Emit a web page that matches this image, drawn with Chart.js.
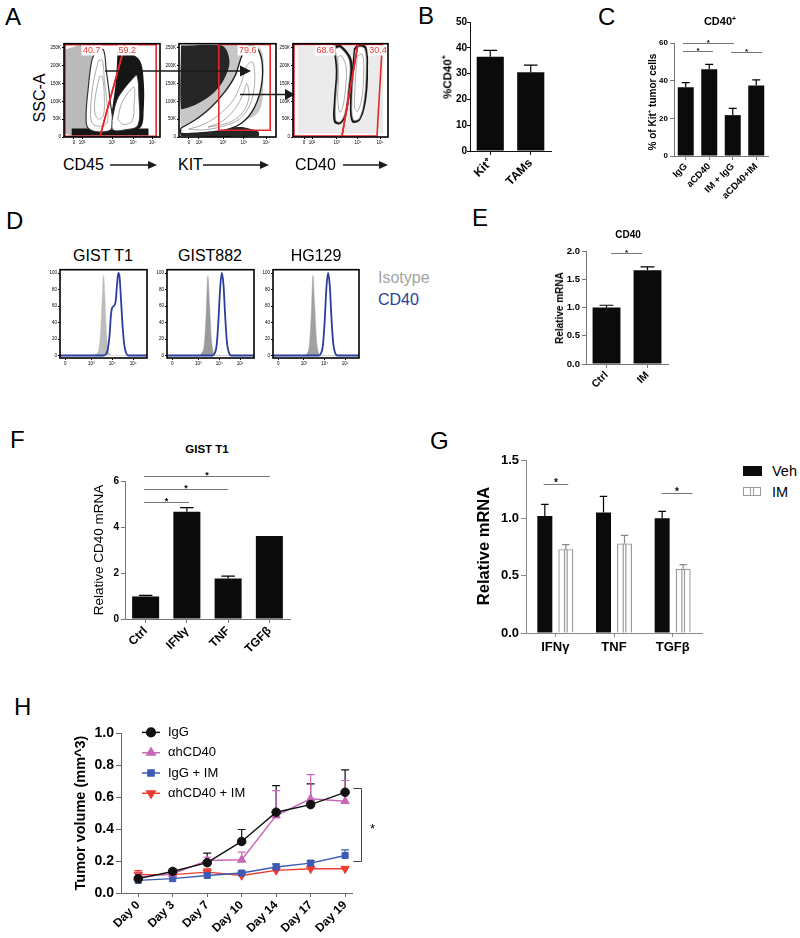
<!DOCTYPE html>
<html>
<head>
<meta charset="utf-8">
<script src="https://cdn.jsdelivr.net/npm/chart.js@4.4.1/dist/chart.umd.min.js"></script>
<style>
html, body { margin: 0; padding: 0; background: #fff; }
body { width: 800px; height: 938px; position: relative; overflow: hidden; font-family: 'Liberation Sans', Arial, sans-serif; color: #000; }
.t { position: absolute; white-space: nowrap; line-height: 1; }
.holder { position: absolute; }
</style>
</head>
<body>
<svg width="800" height="938" style="position:absolute;left:0;top:0;z-index:5;pointer-events:none">
  <g stroke="#1a1a1a" stroke-width="1.3" fill="#1a1a1a">
    <line x1="105" y1="71" x2="242" y2="71"/><path d="M240,65.5 L251,71 L240,76.5z" stroke="none"/>
    <line x1="240" y1="94.5" x2="286" y2="94.5"/><path d="M285,89 L295,94.5 L285,100z" stroke="none"/>
    <line x1="110" y1="165" x2="149" y2="165"/><path d="M148,161 L157,165 L148,169z" stroke="none"/>
    <line x1="203" y1="165" x2="261" y2="165"/><path d="M260,161 L269,165 L260,169z" stroke="none"/>
    <line x1="343" y1="165" x2="380" y2="165"/><path d="M379,161 L388,165 L379,169z" stroke="none"/>
  </g>
</svg>
<script>
// ---- A: flow gates (x 0-100 display units, y in K) ----
const flowYTicks = [0, 50, 100, 150, 200, 250];
const flowXLabels = ['0', '10²', '10³', '10⁴', '10⁵'];
const p1XTicks = [10.4, 18.8, 50, 72, 92];
const p2XTicks = [10.3, 20.6, 45.4, 67, 90];
const p3XTicks = [11.6, 20, 46, 68.4, 91.6];

const p1Speckle = [[1,245],[18,258],[34,258],[36,12],[1,12],[1,245]];
const p1Dark = [[56,250],[67,238],[79,215],[83,159],[83,75],[80,28],[64,14],[46,14],[50,75],[54,159],[56,250]];
const p1Band = [[8,24],[88,24],[88,4],[8,4],[8,24]];
const p1Left = [[34,245],[41,245],[44,187],[48,103],[50,25],[38,14],[25,25],[23,61],[25,131],[29,215],[34,245]];
const p1LeftIn = [[36,215],[40,215],[42,160],[45,90],[45,40],[37,30],[29,40],[28,90],[31,160],[36,215]];
const p1LeftIn2 = [[37,170],[40,170],[42,110],[41,60],[36,50],[32,70],[33,120],[37,170]];
const p1Right = [[50,47],[55,103],[63,137],[72,165],[76,173],[78,117],[77,33],[63,20],[51,20],[50,47]];
const p1RightIn = [[56,50],[60,95],[67,125],[73,140],[73,90],[71,45],[62,35],[56,50]];
const p1GateL = [[1,2],[1,259],[63.5,259],[37.5,2],[1,2]];
const p1GateR = [[37.5,2],[63.5,259],[96,259],[96,2],[37.5,2]];
const p1Labels = [[29, 243, '40.7'], [66, 243, '59.2']];

const p2Speckle = [[2,257],[80,257],[87,160],[78,60],[2,30],[2,257]];
const p2Dark = [[2,257],[44,257],[52,215],[47,165],[35,122],[20,95],[6,80],[2,80],[2,257]];
const p2Band = [[2,22],[40,24],[65,28],[82,15],[82,3],[2,3],[2,22]];
const p2Banana = [[2,25],[16,47],[32,81],[47,126],[58,173],[65,229],[73,257],[81,248],[86,201],[84,131],[75,70],[61,33],[42,17],[16,11],[2,11],[2,25]];
const p2BananaIn = [[10,22],[25,35],[40,60],[55,100],[64,150],[70,200],[76,210],[78,150],[73,90],[62,50],[45,30],[25,20],[10,22]];
const p2BananaIn2 = [[30,28],[45,45],[58,80],[66,120],[70,150],[72,110],[66,70],[55,45],[40,32],[30,28]];
const p2Gate = [[41,19],[41,260],[94,260],[94,19],[41,19]];
const p2Labels = [[71, 243, '79.6']];

const p3Speckle = [[5,10],[5,255],[95,255],[95,10],[5,10]];
const p3Left = [[42,257],[50,259],[62,215],[60,131],[56,61],[49.5,36],[43,42],[43,103],[45,187],[42,257]];
const p3LeftIn = [[44.5,248],[50,250],[59.5,212],[58,131],[54.5,66],[49.5,42],[45,47],[45,103],[47,187],[44.5,248]];
const p3LeftIn2 = [[47,225],[51,228],[56,195],[55,130],[52,80],[49,70],[47,110],[48,170],[47,225]];
const p3Right = [[64,248],[68,259],[77,254],[79,187],[77,103],[70.6,47],[62,42],[60,103],[62,187],[64,248]];
const p3RightIn = [[65.5,243],[68.5,253],[75.5,248],[77,187],[75,105],[70,53],[63.5,48],[62,103],[64,187],[65.5,243]];
const p3RightIn2 = [[67.5,228],[73,232],[74.5,185],[72.5,110],[68,72],[65,80],[65,130],[66.5,190],[67.5,228]];
const p3GateL = [[1,3],[1,260],[68.4,260],[51.6,3],[1,3]];
const p3GateR = [[51.6,3],[68.4,260],[94,260],[88.4,3],[51.6,3]];
const p3Labels = [[34, 243, '68.6'], [89.5, 243, '30.4']];

// ---- B ----
const bCats = ['Kit⁺', 'TAMs'];
const bVals = [36.5, 30.5];
const bErr = [2.5, 2.8];

// ---- C ----
const cCats = ['IgG', 'aCD40', 'IM + IgG', 'aCD40+IM'];
const cVals = [36.5, 46.1, 21.7, 37.4];
const cErr = [2.5, 2.6, 3.6, 3.0];

// ---- D: histograms (x display units, y % of max) ----
const dXTicks = [6, 36, 60, 84];
const dXLabels = ['0', '10³', '10⁴', '10⁵'];
const dYTicks = [0, 20, 40, 60, 80, 100];
const t1Iso = [[0,0],[38,0],[42,2],[45,10],[47,35],[48.5,70],[50,97],[51.5,75],[53,35],[55,10],[57,2],[60,0],[100,0]];
const t1Cd40 = [[0,0],[50,0],[53,2],[55,8],[57,25],[58.5,48],[60,58],[62,60],[64,66],[65.5,85],[67,100],[68.5,95],[70,70],[72,35],[74,12],[76,3],[79,0],[100,0]];
const g882Iso = [[0,0],[36,0],[40,3],[43,15],[45,50],[47,96],[49,60],[51,20],[53,5],[56,0],[100,0]];
const g882Cd40 = [[0,0],[52,0],[55,3],[57,12],[59,40],[61,80],[63,100],[65,85],[67,45],[69,15],[71,4],[74,0],[100,0]];
const hg129Iso = [[0,0],[36,0],[40,3],[42.5,15],[44.5,50],[46.5,97],[48.5,60],[50.5,20],[52.5,5],[55,0],[100,0]];
const hg129Cd40 = [[0,0],[53,0],[56,3],[58,12],[60,40],[62,80],[64,100],[66,85],[68,45],[70,15],[72,4],[75,0],[100,0]];

// ---- E ----
const eCats = ['Ctrl', 'IM'];
const eVals = [1.0, 1.66];
const eErr = [0.04, 0.06];

// ---- F ----
const fCats = ['Ctrl', 'IFNγ', 'TNF', 'TGFβ'];
const fVals = [0.98, 4.66, 1.76, 3.61];
const fErr = [0.05, 0.18, 0.1, 0];

// ---- G ----
const gCats = ['IFNγ', 'TNF', 'TGFβ'];
const gVeh = [1.02, 1.05, 1.0];
const gVehErr = [0.1, 0.14, 0.06];
const gIM = [0.73, 0.78, 0.56];
const gIMErr = [0.04, 0.07, 0.035];

// ---- H ----
const hDays = ['Day 0', 'Day 3', 'Day 7', 'Day 10', 'Day 14', 'Day 17', 'Day 19'];
const hIgG = [0.09, 0.135, 0.19, 0.323, 0.506, 0.554, 0.631];
const hIgGErr = [0.01, 0.015, 0.06, 0.075, 0.167, 0.13, 0.14];
const hAnti = [0.10, 0.12, 0.204, 0.208, 0.485, 0.59, 0.575];
const hAntiErr = [0.02, 0.02, 0.02, 0.048, 0.157, 0.152, 0.13];
const hIgGIM = [0.079, 0.09, 0.11, 0.125, 0.163, 0.1875, 0.235];
const hIgGIMErr = [0.01, 0.012, 0.015, 0.01, 0.02, 0.015, 0.035];
const hAntiIM = [0.115, 0.115, 0.131, 0.11, 0.142, 0.152, 0.152];
const hAntiIMErr = [0.025, 0.012, 0.02, 0.012, 0.015, 0.012, 0.012];

Chart.defaults.font.family = "'Liberation Sans', Arial, sans-serif";
Chart.defaults.color = '#000';
Chart.defaults.animation = false;
Chart.defaults.events = [];
Chart.defaults.plugins.legend.display = false;
Chart.defaults.plugins.tooltip.enabled = false;

function text(str, x, y, size, opt = {}) {
    const d = document.createElement('div');
    d.className = 't';
    d.innerHTML = str;
    const ax = opt.left ? '0' : '-50%';
    const rot = opt.rot ? ` rotate(${opt.rot}deg)` : '';
    d.style.left = x + 'px';
    d.style.top = y + 'px';
    d.style.fontSize = size + 'px';
    d.style.fontWeight = opt.bold ? 'bold' : 'normal';
    d.style.color = opt.color || '#000';
    d.style.transform = `translate(${ax},-50%)${rot}`;
    document.body.appendChild(d);
}

// area = chart area box in page pixels, the container is grown around it
function mount(area, yw, xh, padT, padR) {
    const div = document.createElement('div');
    div.className = 'holder';
    div.style.left = (area[0] - yw) + 'px';
    div.style.top = (area[1] - padT) + 'px';
    div.style.width = (area[2] - area[0] + yw + padR) + 'px';
    div.style.height = (area[3] - area[1] + padT + xh) + 'px';
    const cv = document.createElement('canvas');
    div.appendChild(cv);
    document.body.appendChild(div);
    return cv;
}

const pts = arr => arr.map(p => ({ x: p[0], y: p[1] }));

const errPlugin = {
    id: 'errbars',
    beforeDatasetsDraw(chart) {
        const ctx = chart.ctx, ys = chart.scales.y;
        chart.data.datasets.forEach((ds, i) => {
            if (!ds.err) return;
            const meta = chart.getDatasetMeta(i);
            ctx.save();
            ctx.strokeStyle = ds.errColor || '#000';
            ctx.lineWidth = ds.errWidth || 1.2;
            meta.data.forEach((el, j) => {
                const e = ds.err[j];
                if (!e) return;
                const raw = ds.data[j];
                const v = typeof raw === 'object' ? raw.y : raw;
                const top = ys.getPixelForValue(v + e);
                const half = ds.capHalf || el.width * 0.25;
                ctx.beginPath();
                ctx.moveTo(el.x, el.y); ctx.lineTo(el.x, top);
                ctx.moveTo(el.x - half, top); ctx.lineTo(el.x + half, top);
                ctx.stroke();
            });
            ctx.restore();
        });
    }
};

function sigPlugin(lines, color, font) {
    return {
        id: 'sig',
        afterDraw(chart) {
            const ctx = chart.ctx, xs = chart.scales.x, ys = chart.scales.y;
            ctx.save();
            ctx.strokeStyle = color; ctx.lineWidth = 1;
            ctx.fillStyle = '#000'; ctx.font = font; ctx.textAlign = 'center';
            lines.forEach(l => {
                const x1 = xs.getPixelForValue(l[0]), x2 = xs.getPixelForValue(l[1]);
                const y = Math.round(ys.getPixelForValue(l[2])) + 0.5;
                ctx.beginPath(); ctx.moveTo(x1, y); ctx.lineTo(x2, y); ctx.stroke();
                ctx.fillText('*', (x1 + x2) / 2, y + 1.5);
            });
            ctx.restore();
        }
    };
}

const framePlugin = {
    id: 'frame',
    afterDraw(chart) {
        const a = chart.chartArea, ctx = chart.ctx;
        ctx.save();
        ctx.strokeStyle = '#000'; ctx.lineWidth = 1.6;
        ctx.strokeRect(a.left, a.top, a.right - a.left, a.bottom - a.top);
        ctx.restore();
    }
};

function gateLabelPlugin(labels) {
    return {
        id: 'gatelabels',
        afterDatasetsDraw(chart) {
            const ctx = chart.ctx, xs = chart.scales.x, ys = chart.scales.y;
            ctx.save();
            ctx.font = '9px "Liberation Sans", Arial, sans-serif';
            ctx.textAlign = 'center'; ctx.textBaseline = 'middle';
            labels.forEach(l => {
                const x = xs.getPixelForValue(l[0]), y = ys.getPixelForValue(l[1]);
                const w = ctx.measureText(l[2]).width + 3;
                ctx.fillStyle = '#fff';
                ctx.fillRect(x - w / 2, y - 5, w, 10);
                ctx.fillStyle = '#e83a36';
                ctx.fillText(l[2], x, y + 0.5);
            });
            ctx.restore();
        }
    };
}

function fixedTicks(values) {
    return s => { s.ticks = values.map(v => ({ value: v })); };
}

function boxAxes(xVals, xLabels, yVals, yLabel, yMin, yMax, yw, xh) {
    return {
        x: {
            type: 'linear', min: 0, max: 100,
            afterBuildTicks: fixedTicks(xVals),
            ticks: { font: { size: 4.5 }, padding: 1, maxRotation: 0, callback: (v, i) => xLabels[i] },
            grid: { drawOnChartArea: false, tickLength: 2, color: '#000' },
            border: { display: false },
            afterFit: s => { s.height = xh; }
        },
        y: {
            min: yMin, max: yMax,
            afterBuildTicks: fixedTicks(yVals),
            ticks: { font: { size: 4.5 }, padding: 1, callback: yLabel },
            grid: { drawOnChartArea: false, tickLength: 2, color: '#000' },
            border: { display: false },
            afterFit: s => { s.width = yw; }
        }
    };
}

// polygon dataset; listed bottom first
function poly(p, fill, stroke, width, tension) {
    return {
        data: pts(p), fill: fill ? 'shape' : false, backgroundColor: fill || 'transparent',
        borderColor: stroke || 'transparent', borderWidth: width || 0.7,
        pointRadius: 0, tension: tension === undefined ? 0.35 : tension
    };
}

function flowChart(area, sets, xTicks, labels) {
    sets.forEach((s, i) => { s.order = sets.length - i; });
    const cv = mount(area, 16, 12, 3, 3);
    new Chart(cv, {
        type: 'line',
        data: { datasets: sets },
        options: {
            responsive: true, maintainAspectRatio: false,
            layout: { padding: { top: 3, right: 3 } },
            scales: boxAxes(xTicks, flowXLabels, flowYTicks, v => v ? v + 'K' : '0', 0, 262, 16, 12)
        },
        plugins: [framePlugin, gateLabelPlugin(labels)]
    });
}

const SPK = 'rgba(0,0,0,0.27)', DARK = '#161616', CONT = '#8a8a8a', RED = '#e8262a';

flowChart([64, 43, 160, 137], [
    poly(p1Speckle, SPK), poly(p1Dark, DARK), poly(p1Band, DARK, null, 0.7, 0),
    poly(p1Left, '#fff', '#333', 1.2), poly(p1LeftIn, '#fff', CONT), poly(p1LeftIn2, '#fff', CONT),
    poly(p1Right, '#fff', '#333', 1), poly(p1RightIn, '#fff', CONT),
    poly(p1GateL, null, RED, 1.6, 0), poly(p1GateR, null, RED, 1.6, 0)
], p1XTicks, p1Labels);

flowChart([179, 43, 276, 137], [
    poly(p2Speckle, 'rgba(0,0,0,0.22)'), poly(p2Dark, '#262626'), poly(p2Band, '#262626', null, 0.7, 0.2),
    poly(p2Banana, '#fff', '#222', 1.4), poly(p2BananaIn, '#fff', CONT), poly(p2BananaIn2, '#fff', CONT),
    poly(p2Gate, null, RED, 1.6, 0)
], p2XTicks, p2Labels);

flowChart([293, 43, 388, 137], [
    poly(p3Speckle, 'rgba(0,0,0,0.08)', null, 0.7, 0),
    poly(p3Left, DARK), poly(p3LeftIn, '#fff', CONT), poly(p3LeftIn2, '#fff', CONT),
    poly(p3Right, DARK), poly(p3RightIn, '#fff', CONT), poly(p3RightIn2, '#fff', CONT),
    poly(p3GateL, null, RED, 1.6, 0), poly(p3GateR, null, RED, 1.6, 0)
], p3XTicks, p3Labels);

// ---- D ----
function histChart(area, iso, cd40, isoColor) {
    const cv = mount(area, 12, 10, 3, 3);
    new Chart(cv, {
        type: 'line',
        data: {
            datasets: [
                { data: pts(cd40), borderColor: '#2b3d9e', borderWidth: 1.8, fill: false, pointRadius: 0, cubicInterpolationMode: 'monotone' },
                { data: pts(iso), borderColor: isoColor, backgroundColor: isoColor, borderWidth: 0.5, fill: 'origin', pointRadius: 0, cubicInterpolationMode: 'monotone' }
            ]
        },
        options: {
            responsive: true, maintainAspectRatio: false,
            layout: { padding: { top: 3, right: 3 } },
            scales: boxAxes(dXTicks, dXLabels, dYTicks, v => String(v), -3, 104, 12, 10)
        },
        plugins: [framePlugin]
    });
}
histChart([60, 269, 147, 358], t1Iso, t1Cd40, '#bdbdbd');
histChart([167, 269, 254, 358], g882Iso, g882Cd40, '#9a9a9a');
histChart([273, 269, 359, 358], hg129Iso, hg129Cd40, '#a0a0a0');

// ---- bar charts ----
function barChart(area, cats, vals, errs, o) {
    const cv = mount(area, o.yw, o.xh, o.padT, o.padR || 4);
    const plugins = [errPlugin];
    if (o.sig) plugins.push(sigPlugin(o.sig, o.axis, `bold ${o.starSize || 9}px "Liberation Sans", Arial`));
    new Chart(cv, {
        type: 'bar',
        data: {
            labels: cats,
            datasets: [{ data: vals, err: errs, backgroundColor: '#0b0b0b', barPercentage: o.bar, categoryPercentage: 1 }]
        },
        options: {
            responsive: true, maintainAspectRatio: false,
            layout: { padding: { top: o.padT, right: o.padR || 4 } },
            scales: {
                x: {
                    ticks: { font: { size: o.xFont, weight: 'bold' }, maxRotation: 45, minRotation: 45, autoSkip: false, padding: 1 },
                    grid: { drawOnChartArea: false, tickLength: 4, color: o.axis, offset: false },
                    border: { color: o.axis, width: 1 },
                    afterFit: s => { s.height = o.xh; }
                },
                y: {
                    min: 0, max: o.max,
                    ticks: { stepSize: o.step, font: { size: o.yFont, weight: 'bold' }, padding: o.tickPad === undefined ? 2 : o.tickPad, callback: v => v.toFixed(o.dec || 0) },
                    grid: { drawOnChartArea: false, tickLength: o.tickLen || 4, color: o.axis },
                    border: { color: o.axis, width: 1 },
                    afterFit: s => { s.width = o.yw; }
                }
            }
        },
        plugins
    });
}

barChart([470, 22, 551, 151], bCats, bVals, bErr,
    { yw: 30, xh: 44, padT: 8, max: 50, step: 10, yFont: 10, xFont: 12, axis: '#111', bar: 0.67, tickLen: 3, tickPad: 0 });
barChart([674, 43, 768, 156], cCats, cVals, cErr,
    { yw: 22, xh: 50, padT: 16, max: 60, step: 20, yFont: 8, xFont: 9.5, axis: '#777', bar: 0.68,
      sig: [[-0.12, 1.16, 55.8], [-0.12, 2.05, 60.1], [1.93, 3.25, 55.2]], starSize: 8 });
barChart([586, 251, 668, 364], eCats, eVals, eErr,
    { yw: 30, xh: 40, padT: 12, max: 2, step: 0.5, dec: 1, yFont: 9.5, xFont: 10.5, axis: '#777', bar: 0.68,
      sig: [[0.11, 0.87, 1.96]], starSize: 8 });
barChart([125, 481, 290, 619], fCats, fVals, fErr,
    { yw: 24, xh: 46, padT: 20, max: 6, step: 2, yFont: 10, xFont: 12, axis: '#777', bar: 0.655,
      sig: [[-0.04, 1.05, 5.07], [-0.04, 2.0, 5.65], [-0.04, 3.01, 6.22]], starSize: 9 });

// ---- G ----
const stripePlugin = {
    id: 'stripes',
    afterDatasetsDraw(chart) {
        const ctx = chart.ctx;
        chart.data.datasets.forEach((ds, i) => {
            if (!ds.striped) return;
            ctx.save();
            ctx.strokeStyle = '#9a9a9a'; ctx.lineWidth = 1.2;
            chart.getDatasetMeta(i).data.forEach(el => {
                ctx.beginPath();
                ctx.moveTo(el.x - 1.3, el.y); ctx.lineTo(el.x - 1.3, el.base);
                ctx.moveTo(el.x + 1.3, el.y); ctx.lineTo(el.x + 1.3, el.base);
                ctx.stroke();
            });
            ctx.restore();
        });
    }
};
(function () {
    const cv = mount([526, 459, 702, 633], 36, 30, 8, 4);
    new Chart(cv, {
        type: 'bar',
        data: {
            labels: gCats,
            datasets: [
                { label: 'Veh', data: gVeh, err: gVehErr, backgroundColor: '#0b0b0b', barPercentage: 0.714, categoryPercentage: 0.716 },
                { label: 'IM', data: gIM, err: gIMErr, errColor: '#888', striped: true, backgroundColor: '#fff', borderColor: '#9a9a9a', borderWidth: 1.4, barPercentage: 0.714, categoryPercentage: 0.716 }
            ]
        },
        options: {
            responsive: true, maintainAspectRatio: false,
            layout: { padding: { top: 8, right: 4 } },
            scales: {
                x: {
                    ticks: { font: { size: 13, weight: 'bold' }, maxRotation: 0, autoSkip: false, padding: 3 },
                    grid: { drawOnChartArea: false, tickLength: 4, color: '#888', offset: false },
                    border: { color: '#888', width: 1 },
                    afterFit: s => { s.height = 30; }
                },
                y: {
                    min: 0, max: 1.5,
                    ticks: { stepSize: 0.5, font: { size: 13, weight: 'bold' }, padding: 2, callback: v => v.toFixed(1) },
                    grid: { drawOnChartArea: false, tickLength: 5, color: '#888' },
                    border: { color: '#888', width: 1 },
                    afterFit: s => { s.width = 36; }
                }
            }
        },
        plugins: [errPlugin, stripePlugin, sigPlugin([[-0.2, 0.22, 1.30], [1.81, 2.34, 1.22]], '#777', 'bold 10px "Liberation Sans", Arial')]
    });
})();

// ---- H ----
const hLegendPlugin = {
    id: 'hlegend',
    afterDraw(chart) {
        const ctx = chart.ctx, a = chart.chartArea;
        const dp = Chart.helpers && Chart.helpers.drawPoint;
        ctx.save();
        ctx.font = '13px "Liberation Sans", Arial, sans-serif';
        ctx.textBaseline = 'middle';
        chart.data.datasets.forEach((ds, i) => {
            const y = a.top - 1 + i * 20.3;
            const x0 = a.left + 21, x1 = a.left + 39;
            ctx.strokeStyle = ds.borderColor; ctx.fillStyle = ds.backgroundColor; ctx.lineWidth = 1.5;
            ctx.beginPath(); ctx.moveTo(x0, y); ctx.lineTo(x1, y); ctx.stroke();
            if (dp) {
                dp(ctx, { pointStyle: ds.pointStyle, radius: ds.pointRadius, rotation: ds.pointRotation || 0, borderWidth: 1 }, (x0 + x1) / 2, y);
            } else {
                ctx.beginPath(); ctx.arc((x0 + x1) / 2, y, ds.pointRadius, 0, Math.PI * 2); ctx.fill();
            }
            ctx.fillStyle = '#000';
            ctx.fillText(ds.label, a.left + 47, y);
        });
        ctx.restore();
    }
};
const hBracketPlugin = {
    id: 'hbracket',
    afterDraw(chart) {
        const ctx = chart.ctx, xs = chart.scales.x, ys = chart.scales.y;
        const xv = Math.round(xs.getPixelForValue(6.47)) + 0.5, x0 = xs.getPixelForValue(6.24);
        const y1 = Math.round(ys.getPixelForValue(0.655)) + 0.5, y2 = Math.round(ys.getPixelForValue(0.2)) + 0.5;
        ctx.save();
        ctx.strokeStyle = '#444'; ctx.lineWidth = 1;
        ctx.beginPath(); ctx.moveTo(x0, y1); ctx.lineTo(xv, y1); ctx.lineTo(xv, y2); ctx.lineTo(x0, y2); ctx.stroke();
        ctx.fillStyle = '#000'; ctx.font = '13px "Liberation Sans", Arial'; ctx.textAlign = 'center';
        ctx.fillText('*', xv + 11, ys.getPixelForValue(0.42) + 7);
        ctx.restore();
    }
};
function hSet(label, vals, errs, color, style, rot, radius) {
    return {
        label, data: vals.map((v, i) => ({ x: i, y: v })), err: errs, errColor: color, errWidth: 1.2, capHalf: 4,
        borderColor: color, backgroundColor: color, borderWidth: 1.4,
        pointStyle: style, pointRotation: rot, pointRadius: radius, pointBorderWidth: 1, tension: 0
    };
}
(function () {
    const cv = mount([121, 733, 352, 893], 38, 52, 10, 30);
    new Chart(cv, {
        type: 'line',
        data: {
            datasets: [
                hSet('IgG', hIgG, hIgGErr, '#111111', 'circle', 0, 4.3),
                hSet('αhCD40', hAnti, hAntiErr, '#c866b8', 'triangle', 0, 4.8),
                hSet('IgG + IM', hIgGIM, hIgGIMErr, '#3b5bb5', 'rect', 0, 4.3),
                hSet('αhCD40 + IM', hAntiIM, hAntiIMErr, '#ef3b30', 'triangle', 180, 4.8)
            ]
        },
        options: {
            responsive: true, maintainAspectRatio: false,
            layout: { padding: { top: 10, right: 30 } },
            scales: {
                x: {
                    type: 'linear', min: -0.5, max: 6.2,
                    afterBuildTicks: fixedTicks(hDays.map((d, i) => i)),
                    ticks: { font: { size: 12, weight: 'bold' }, maxRotation: 45, minRotation: 45, autoSkip: false, padding: 1, callback: (v, i) => hDays[i] },
                    grid: { drawOnChartArea: false, tickLength: 4, color: '#666' },
                    border: { color: '#666', width: 1 },
                    afterFit: s => { s.height = 52; }
                },
                y: {
                    min: 0, max: 1,
                    ticks: { stepSize: 0.2, font: { size: 14, weight: 'bold' }, padding: 2, callback: v => v.toFixed(1) },
                    grid: { drawOnChartArea: false, tickLength: 5, color: '#666' },
                    border: { color: '#666', width: 1 },
                    afterFit: s => { s.width = 38; }
                }
            }
        },
        plugins: [errPlugin, hLegendPlugin, hBracketPlugin]
    });
})();

// ---- text ----
const LET = 24;
text('A', 5, 17, LET, { left: true });
text('B', 418, 16, LET, { left: true });
text('C', 598, 17, LET, { left: true });
text('D', 6, 221, LET, { left: true });
text('E', 472, 218, LET, { left: true });
text('F', 10, 440, LET, { left: true });
text('G', 430, 441, LET, { left: true });
text('H', 14, 707, LET, { left: true });

text('SSC-A', 40, 98, 16, { rot: -90 });
text('CD45', 63, 165, 16, { left: true });
text('KIT', 178, 165, 16, { left: true });
text('CD40', 295, 165, 16, { left: true });

text('%CD40<sup style="font-size:7px">+</sup>', 447, 77, 11.5, { bold: true, rot: -90 });
text('CD40<sup style="font-size:7px">+</sup>', 720, 21, 11, { bold: true });
text('% of Kit<sup style="font-size:6px">+</sup> tumor cells', 652, 102, 10, { bold: true, rot: -90 });

text('GIST T1', 103, 256, 16);
text('GIST882', 210, 256, 16);
text('HG129', 316, 256, 16);
text('Isotype', 378, 278, 16, { left: true, color: '#a3a3a3' });
text('CD40', 378, 300, 16, { left: true, color: '#2b3d9e' });

text('CD40', 628, 235, 10, { bold: true });
text('Relative mRNA', 560, 308, 10, { bold: true, rot: -90 });

text('GIST T1', 207, 450, 11.5, { bold: true });
text('Relative CD40 mRNA', 99, 550, 13.5, { rot: -90 });

text('Relative mRNA', 483, 546, 16.5, { bold: true, rot: -90 });
text('Veh', 772, 471, 14.5, { left: true });
text('IM', 772, 492, 14.5, { left: true });
const vehBox = document.createElement('div');
vehBox.style.cssText = 'position:absolute;left:743px;top:466px;width:19px;height:10px;background:#0b0b0b;';
document.body.appendChild(vehBox);
const imBox = document.createElement('div');
imBox.style.cssText = 'position:absolute;left:743px;top:487px;width:16px;height:7px;border:1.5px solid #9a9a9a;background:linear-gradient(90deg,#fff 0,#fff 6px,#9a9a9a 6px,#9a9a9a 7.2px,#fff 7.2px,#fff 8.8px,#9a9a9a 8.8px,#9a9a9a 10px,#fff 10px);';
document.body.appendChild(imBox);

text('Tumor volume (mm^3)', 80, 813, 14.5, { bold: true, rot: -90 });
</script>
</body>
</html>
